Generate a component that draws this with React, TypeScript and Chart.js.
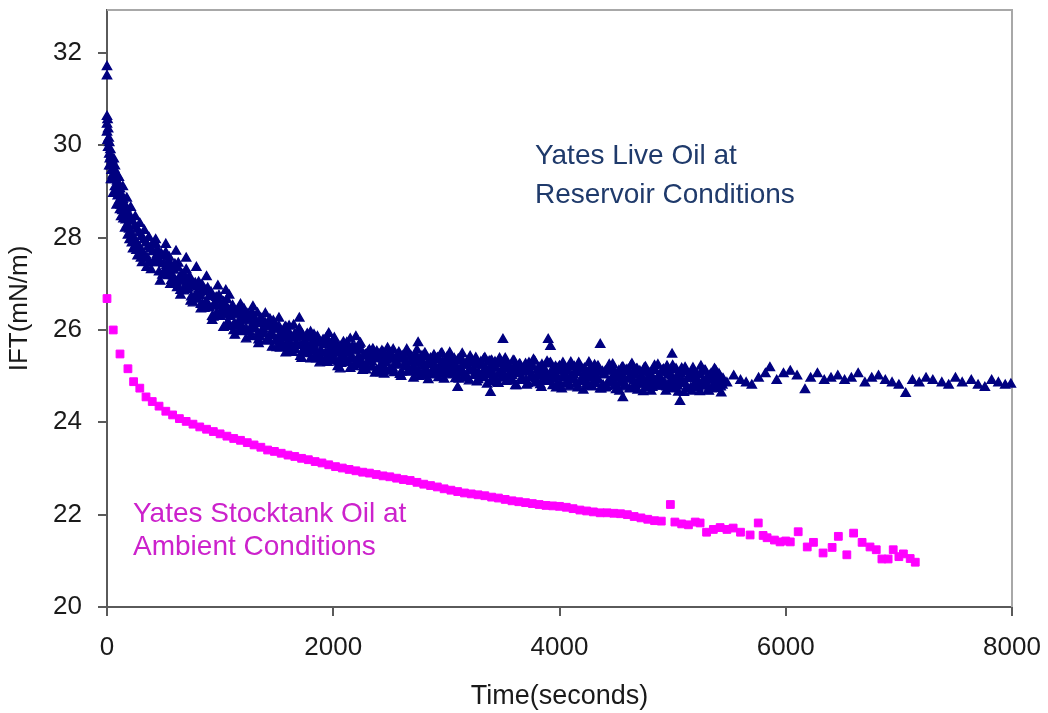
import React, { useEffect, useRef } from "react";
import { Chart, registerables } from "chart.js";

Chart.register(...registerables);

type Pt = [number, number];

// ---------- axes ----------
const X_TICKS = [0, 2000, 4000, 6000, 8000];
const Y_TICKS = [20, 22, 24, 26, 28, 30, 32];
const X_MIN = 0;
const X_MAX = 8000;
const Y_MIN = 20;
const Y_MAX = 32.93;
const X_TITLE = "Time(seconds)";
const Y_TITLE = "IFT(mN/m)";

// ---------- Yates live oil at reservoir conditions (triangles) ----------
const liveEarlyTime = [0, 0, 0, 0, 0, 5, 5, 10, 10, 15, 20, 20, 25, 30, 30, 35, 40, 45, 50, 55, 60, 65, 70, 75, 80, 90, 95, 100, 110, 115, 120, 130, 135, 140, 150, 155, 165, 170, 180, 190, 195, 205, 215, 225, 235, 245, 255, 265, 275, 285, 295, 305, 315, 325, 335, 345, 355, 365, 375, 385];
const liveEarlyIFT = [31.70, 31.50, 30.62, 30.45, 30.28, 30.55, 30.10, 30.35, 29.95, 30.15, 29.80, 30.05, 29.70, 29.90, 29.55, 29.75, 29.45, 29.68, 29.35, 29.58, 29.25, 29.48, 29.10, 29.35, 29.02, 29.22, 28.90, 29.12, 28.80, 29.05, 28.70, 28.92, 28.58, 28.82, 28.50, 28.72, 28.38, 28.62, 28.28, 28.52, 28.18, 28.42, 28.08, 28.35, 27.98, 28.25, 27.90, 28.18, 27.82, 28.10, 27.75, 28.02, 27.68, 27.95, 27.60, 27.88, 27.55, 27.80, 27.48, 27.75];
const liveEarlySpread: Pt[] = [
  [20, 29.55], [35, 29.25], [55, 28.95], [60, 29.70], [70, 29.55], [85, 28.70], [90, 29.35], [105, 29.30], [115, 28.60], [125, 28.45], [140, 29.10], [145, 28.40], [160, 28.20], [175, 28.85], [185, 28.05], [200, 27.95], [210, 28.65], [220, 27.88], [230, 27.75], [250, 28.45], [260, 27.72], [270, 27.60], [290, 28.30], [300, 27.55], [310, 27.45], [330, 28.15], [350, 27.35], [370, 28.00], [390, 27.30],
];

const live0400: Pt[] = [
  [400, 27.85], [420, 27.49], [440, 27.62], [460, 27.25], [480, 27.64], [500, 27.43], [520, 27.67], [540, 27.17], [560, 27.39], [580, 27.17], [600, 27.42], [620, 26.91], [640, 27.13], [660, 27.21], [680, 26.84], [700, 27.30], [720, 26.90], [740, 27.02], [760, 26.58], [780, 27.01], [800, 26.66], [820, 26.80], [840, 26.97], [860, 26.46], [880, 26.61],
  [410, 27.45], [430, 27.86], [450, 27.52], [470, 27.63], [490, 27.18], [510, 27.62], [530, 27.29], [550, 27.57], [570, 27.07], [590, 27.29], [610, 27.04], [630, 27.44], [650, 26.85], [670, 27.08], [690, 27.18], [710, 26.87], [730, 27.15], [750, 26.63], [770, 26.95], [790, 26.78], [810, 27.03], [830, 26.55], [850, 26.83], [870, 26.58], [890, 26.90],
];
const live0900: Pt[] = [
  [900, 26.50], [920, 26.81], [940, 26.27], [960, 26.59], [980, 26.66], [1000, 26.29], [1020, 26.44], [1040, 26.34], [1060, 26.65], [1080, 26.12], [1100, 26.42], [1120, 25.98], [1140, 26.32], [1160, 26.44], [1180, 26.11], [1200, 25.96], [1220, 26.33], [1240, 26.19], [1260, 25.96], [1280, 26.38], [1300, 26.03], [1320, 26.18], [1340, 25.78], [1360, 26.25], [1380, 26.01],
  [910, 26.75], [930, 26.29], [950, 26.57], [970, 26.36], [990, 26.74], [1010, 26.36], [1030, 26.60], [1050, 26.07], [1070, 26.44], [1090, 26.29], [1110, 26.52], [1130, 26.09], [1150, 26.39], [1170, 25.99], [1190, 26.22], [1210, 26.45], [1230, 26.02], [1250, 26.23], [1270, 25.85], [1290, 26.30], [1310, 26.03], [1330, 26.36], [1350, 25.85], [1370, 26.14], [1390, 25.91],
];
const live1400: Pt[] = [
  [1400, 26.14], [1420, 25.76], [1440, 26.23], [1460, 25.90], [1480, 26.01], [1500, 25.61], [1520, 26.07], [1540, 25.73], [1560, 25.85], [1580, 26.06], [1600, 25.63], [1620, 25.85], [1640, 25.51], [1660, 25.91], [1680, 25.66], [1700, 26.02], [1720, 25.50], [1740, 25.73], [1760, 25.55], [1780, 25.87], [1800, 25.37], [1820, 25.74], [1840, 25.59], [1860, 25.85], [1880, 25.43],
  [1410, 25.76], [1430, 26.06], [1450, 25.94], [1470, 26.19], [1490, 25.75], [1510, 26.02], [1530, 25.60], [1550, 25.88], [1570, 26.04], [1590, 25.69], [1610, 26.08], [1630, 25.58], [1650, 25.83], [1670, 25.70], [1690, 25.91], [1710, 25.42], [1730, 25.84], [1750, 25.59], [1770, 25.91], [1790, 25.48], [1810, 25.64], [1830, 25.89], [1850, 25.37], [1870, 25.71], [1890, 25.51],
];
const live1900: Pt[] = [
  [1900, 25.32], [1920, 25.68], [1940, 25.83], [1960, 25.45], [1980, 25.56], [2000, 25.33], [2020, 25.73], [2040, 25.20], [2060, 25.64], [2080, 25.42], [2100, 25.55], [2120, 25.72], [2140, 25.29], [2160, 25.44], [2180, 25.20], [2200, 25.60], [2220, 25.30], [2240, 25.71], [2260, 25.12], [2280, 25.43], [2300, 25.23], [2320, 25.56], [2340, 25.31], [2360, 25.47], [2380, 25.12],
  [1910, 25.78], [1930, 25.49], [1950, 25.29], [1970, 25.69], [1990, 25.41], [2010, 25.82], [2030, 25.49], [2050, 25.59], [2070, 25.27], [2090, 25.73], [2110, 25.32], [2130, 25.50], [2150, 25.16], [2170, 25.63], [2190, 25.54], [2210, 25.24], [2230, 25.68], [2250, 25.31], [2270, 25.45], [2290, 25.13], [2310, 25.53], [2330, 25.32], [2350, 25.58], [2370, 25.06], [2390, 25.46],
];
const live2400: Pt[] = [
  [2400, 25.40], [2420, 25.07], [2440, 25.51], [2460, 25.29], [2480, 25.60], [2500, 25.15], [2520, 25.40], [2540, 25.07], [2560, 25.30], [2580, 25.51], [2600, 24.99], [2620, 25.42], [2640, 25.20], [2660, 25.51], [2680, 25.08], [2700, 25.30], [2720, 25.15], [2740, 25.56], [2760, 24.99], [2780, 25.34], [2800, 25.22], [2820, 25.42], [2840, 24.92], [2860, 25.38], [2880, 25.10],
  [2410, 25.19], [2430, 25.54], [2450, 25.04], [2470, 25.34], [2490, 25.49], [2510, 25.10], [2530, 25.57], [2550, 25.23], [2570, 25.40], [2590, 25.03], [2610, 25.43], [2630, 25.26], [2650, 25.57], [2670, 25.09], [2690, 25.34], [2710, 24.95], [2730, 25.45], [2750, 25.14], [2770, 25.37], [2790, 25.00], [2810, 25.49], [2830, 25.09], [2850, 25.27], [2870, 25.02], [2890, 25.45],
];
const live2900: Pt[] = [
  [2900, 25.04], [2920, 25.39], [2940, 25.18], [2960, 25.49], [2980, 24.93], [3000, 25.30], [3020, 25.07], [3040, 25.41], [3060, 25.22], [3080, 24.94], [3100, 25.32], [3120, 25.10], [3140, 25.48], [3160, 25.00], [3180, 25.23], [3200, 24.89], [3220, 25.34], [3240, 25.14], [3260, 25.39], [3280, 24.92], [3300, 25.24], [3320, 25.01], [3340, 25.39], [3360, 24.82], [3380, 25.16],
  [2910, 25.35], [2930, 24.96], [2950, 25.47], [2970, 25.13], [2990, 25.24], [3010, 25.02], [3030, 25.50], [3050, 25.06], [3070, 25.37], [3090, 25.16], [3110, 24.93], [3130, 25.38], [3150, 25.07], [3170, 25.24], [3190, 24.95], [3210, 25.42], [3230, 25.11], [3250, 25.29], [3270, 24.87], [3290, 25.23], [3310, 24.98], [3330, 25.36], [3350, 25.05], [3370, 25.30], [3390, 24.88],
];
const live3400: Pt[] = [
  [3400, 25.33], [3420, 25.00], [3440, 25.15], [3460, 24.84], [3480, 25.27], [3500, 25.07], [3520, 25.38], [3540, 24.90], [3560, 25.16], [3580, 25.01], [3600, 25.32], [3620, 24.79], [3640, 25.19], [3660, 25.08], [3680, 24.91], [3700, 25.26], [3720, 24.83], [3740, 25.08], [3760, 24.96], [3780, 25.32], [3800, 24.87], [3820, 25.18], [3840, 24.75], [3860, 25.11], [3880, 25.00],
  [3410, 25.05], [3430, 25.30], [3450, 24.85], [3470, 25.38], [3490, 24.97], [3510, 25.17], [3530, 24.88], [3550, 25.23], [3570, 25.06], [3590, 25.33], [3610, 24.79], [3630, 25.11], [3650, 25.25], [3670, 24.90], [3690, 25.16], [3710, 24.80], [3730, 25.28], [3750, 24.97], [3770, 25.35], [3790, 24.93], [3810, 25.06], [3830, 24.81], [3850, 25.20], [3870, 24.99], [3890, 25.31],
];
const live3900: Pt[] = [
  [3900, 24.90], [3920, 25.28], [3940, 24.79], [3960, 25.13], [3980, 24.99], [4000, 25.21], [4020, 24.72], [4040, 25.16], [4060, 25.02], [4080, 24.84], [4100, 25.29], [4120, 24.92], [4140, 25.07], [4160, 24.74], [4180, 25.21], [4200, 24.88], [4220, 25.16], [4240, 24.98], [4260, 25.29], [4280, 24.78], [4300, 25.07], [4320, 24.84], [4340, 25.21], [4360, 24.72], [4380, 25.09],
  [3910, 25.26], [3930, 24.93], [3950, 25.08], [3970, 24.74], [3990, 25.18], [4010, 24.82], [4030, 25.28], [4050, 24.97], [4070, 25.12], [4090, 24.76], [4110, 25.01], [4130, 25.20], [4150, 24.84], [4170, 25.28], [4190, 24.92], [4210, 24.69], [4230, 25.08], [4250, 24.85], [4270, 25.16], [4290, 24.76], [4310, 25.23], [4330, 24.97], [4350, 25.12], [4370, 24.72], [4390, 25.03],
];
const live4400: Pt[] = [
  [4400, 25.02], [4420, 24.77], [4440, 25.24], [4460, 24.88], [4480, 25.13], [4500, 24.70], [4520, 25.07], [4540, 24.95], [4560, 25.19], [4580, 24.80], [4600, 25.09], [4620, 24.72], [4640, 25.26], [4660, 24.90], [4680, 25.14], [4700, 24.82], [4720, 24.98], [4740, 24.66], [4760, 25.19], [4780, 24.87], [4800, 25.06], [4820, 24.75], [4840, 25.22], [4860, 24.84], [4880, 25.01],
  [4410, 24.74], [4430, 25.11], [4450, 24.90], [4470, 25.25], [4490, 24.79], [4510, 24.99], [4530, 24.67], [4550, 25.17], [4570, 24.85], [4590, 25.13], [4610, 24.94], [4630, 25.21], [4650, 24.75], [4670, 25.03], [4690, 24.69], [4710, 25.10], [4730, 24.86], [4750, 25.17], [4770, 24.79], [4790, 24.98], [4810, 24.67], [4830, 25.13], [4850, 24.89], [4870, 25.24], [4890, 24.82],
];
const live4900: Pt[] = [
  [4900, 24.78], [4920, 25.14], [4940, 24.67], [4960, 25.07], [4980, 24.89], [5000, 25.22], [5020, 24.72], [5040, 25.00], [5060, 24.83], [5080, 25.16], [5100, 24.64], [5120, 25.09], [5140, 24.94], [5160, 24.74], [5180, 25.17], [5200, 24.84], [5220, 25.02], [5240, 24.66], [5260, 25.10], [5280, 24.78], [5300, 24.94], [5320, 24.67], [5340, 25.05], [5360, 24.89], [5380, 25.12], [5400, 24.73], [5420, 24.98], [5440, 24.80],
  [4910, 25.12], [4930, 24.85], [4950, 25.21], [4970, 24.73], [4990, 25.00], [5010, 24.80], [5030, 25.15], [5050, 24.65], [5070, 25.05], [5090, 24.90], [5110, 25.18], [5130, 24.75], [5150, 25.02], [5170, 24.67], [5190, 25.07], [5210, 24.94], [5230, 24.80], [5250, 25.21], [5270, 24.84], [5290, 25.11], [5310, 24.68], [5330, 25.01], [5350, 24.75], [5370, 25.15], [5390, 24.89], [5410, 25.04], [5430, 24.63],
];
const liveCoreA: Pt[] = [
  [405, 27.69], [425, 27.45], [445, 27.74], [465, 27.48], [485, 27.60], [505, 27.25], [525, 27.39], [545, 27.49], [565, 27.19], [585, 27.32], [605, 27.02], [625, 27.35], [645, 27.05], [665, 27.18], [685, 26.90], [705, 27.02], [725, 27.12], [745, 26.71], [765, 26.96], [785, 26.75], [805, 26.93], [825, 26.74], [845, 26.55], [865, 26.86], [885, 26.52],
  [905, 26.47], [925, 26.72], [945, 26.51], [965, 26.70], [985, 26.29], [1005, 26.51], [1025, 26.32], [1045, 26.51], [1065, 26.15], [1085, 26.34], [1105, 26.47], [1125, 26.13], [1145, 26.35], [1165, 26.18], [1185, 26.36], [1205, 26.02], [1225, 26.21], [1245, 26.34], [1265, 26.02], [1285, 26.08], [1305, 26.21], [1325, 25.88], [1345, 26.13], [1365, 25.96], [1385, 26.17],
  [1405, 26.08], [1425, 25.81], [1445, 26.09], [1465, 25.87], [1485, 26.10], [1505, 25.77], [1525, 25.89], [1545, 25.66], [1565, 25.94], [1585, 25.80], [1605, 25.96], [1625, 25.68], [1645, 25.82], [1665, 25.57], [1685, 25.86], [1705, 25.67], [1725, 25.90], [1745, 25.54], [1765, 25.68], [1785, 25.80], [1805, 25.55], [1825, 25.69], [1845, 25.44], [1865, 25.77], [1885, 25.53],
  [1905, 25.49], [1925, 25.73], [1945, 25.40], [1965, 25.58], [1985, 25.72], [2005, 25.41], [2025, 25.61], [2045, 25.30], [2065, 25.55], [2085, 25.45], [2105, 25.62], [2125, 25.29], [2145, 25.57], [2165, 25.37], [2185, 25.61], [2205, 25.29], [2225, 25.42], [2245, 25.56], [2265, 25.20], [2285, 25.46], [2305, 25.32], [2325, 25.49], [2345, 25.19], [2365, 25.37], [2385, 25.53],
  [2405, 25.47], [2425, 25.23], [2445, 25.35], [2465, 25.13], [2485, 25.42], [2505, 25.49], [2525, 25.17], [2545, 25.36], [2565, 25.25], [2585, 25.44], [2605, 25.08], [2625, 25.36], [2645, 25.26], [2665, 25.11], [2685, 25.44], [2705, 25.18], [2725, 25.37], [2745, 25.07], [2765, 25.29], [2785, 25.43], [2805, 25.12], [2825, 25.24], [2845, 25.03], [2865, 25.31], [2885, 25.15],
];
const liveCoreB: Pt[] = [
  [2905, 25.21], [2925, 25.38], [2945, 25.05], [2965, 25.30], [2985, 25.12], [3005, 25.40], [3025, 25.15], [3045, 25.32], [3065, 25.04], [3085, 25.21], [3105, 25.36], [3125, 25.06], [3145, 25.24], [3165, 24.97], [3185, 25.30], [3205, 25.14], [3225, 25.34], [3245, 25.01], [3265, 25.24], [3285, 25.07], [3305, 25.30], [3325, 24.96], [3345, 25.17], [3365, 25.03], [3385, 25.32],
  [3405, 25.21], [3425, 24.94], [3445, 25.26], [3465, 25.05], [3485, 25.11], [3505, 24.95], [3525, 25.28], [3545, 25.00], [3565, 25.15], [3585, 24.89], [3605, 25.21], [3625, 25.05], [3645, 25.25], [3665, 24.95], [3685, 25.10], [3705, 24.90], [3725, 25.17], [3745, 24.98], [3765, 25.20], [3785, 24.85], [3805, 25.13], [3825, 25.00], [3845, 25.24], [3865, 24.91], [3885, 25.06],
  [3905, 24.88], [3925, 25.09], [3945, 24.94], [3965, 25.20], [3985, 24.83], [4005, 25.12], [4025, 24.98], [4045, 25.16], [4065, 24.88], [4085, 25.20], [4105, 24.94], [4125, 25.02], [4145, 24.82], [4165, 25.08], [4185, 25.15], [4205, 24.89], [4225, 25.03], [4245, 24.78], [4265, 25.11], [4285, 24.97], [4305, 24.84], [4325, 25.17], [4345, 24.91], [4365, 25.08], [4385, 24.80],
  [4405, 25.10], [4425, 24.85], [4445, 25.16], [4465, 24.93], [4485, 25.04], [4505, 24.79], [4525, 25.11], [4545, 24.87], [4565, 24.99], [4585, 24.76], [4605, 25.13], [4625, 24.93], [4645, 25.05], [4665, 24.80], [4685, 25.15], [4705, 24.88], [4725, 25.00], [4745, 24.82], [4765, 25.08], [4785, 24.75], [4805, 25.03], [4825, 24.89], [4845, 25.12], [4865, 24.78], [4885, 24.95],
  [4905, 24.88], [4925, 25.08], [4945, 24.76], [4965, 25.03], [4985, 24.83], [5005, 25.13], [5025, 24.92], [5045, 24.78], [5065, 25.06], [5085, 24.86], [5105, 25.10], [5125, 24.73], [5145, 24.97], [5165, 25.07], [5185, 24.79], [5205, 24.94], [5225, 24.75], [5245, 25.03], [5265, 24.88], [5285, 25.11], [5305, 24.81], [5325, 24.98], [5345, 24.72], [5365, 25.07], [5385, 24.84], [5405, 25.00], [5425, 24.76], [5445, 24.94],
];
const liveEdges: Pt[] = [
  [430, 27.95], [470, 27.05], [520, 27.85], [560, 26.98], [610, 27.70], [650, 26.75], [700, 27.55], [740, 26.62], [790, 27.35], [830, 26.45], [880, 27.15], [930, 26.20], [980, 26.95], [1030, 26.05], [1080, 26.75], [1130, 25.88], [1180, 26.55], [1230, 25.80], [1290, 26.50], [1340, 25.70], [1400, 26.35], [1460, 25.62], [1520, 26.25], [1580, 25.50], [1650, 26.10], [1720, 25.38], [1800, 25.95], [1880, 25.28], [1960, 25.92], [2060, 25.15], [2150, 25.80],
];
const liveOutliers: Pt[] = [
  [1050, 26.85], [1700, 26.25], [2200, 25.85], [2750, 25.72], [3100, 24.75], [3390, 24.64], [3500, 25.79], [3900, 25.79], [3920, 25.64], [4360, 25.68], [4560, 24.53], [4995, 25.47], [5065, 24.45],
];
const liveTail: Pt[] = [
  [5480, 24.85], [5540, 25.00], [5600, 24.90], [5650, 24.85], [5700, 24.80], [5760, 24.95], [5820, 25.05], [5860, 25.18], [5920, 24.90], [5980, 25.05], [6040, 25.10], [6100, 25.00], [6170, 24.70], [6220, 24.95], [6280, 25.05], [6340, 24.90], [6400, 24.95], [6460, 25.00], [6520, 24.90], [6580, 24.95], [6640, 25.05], [6700, 24.85], [6760, 24.95], [6820, 25.00], [6880, 24.90], [6940, 24.85], [7000, 24.80], [7060, 24.62], [7120, 24.90], [7180, 24.85], [7240, 24.95], [7300, 24.90], [7380, 24.85], [7440, 24.80], [7500, 24.95], [7560, 24.85], [7640, 24.90], [7700, 24.80], [7760, 24.75], [7820, 24.90], [7880, 24.85], [7940, 24.80], [7990, 24.82],
];

// ---------- Yates stocktank oil at ambient conditions (squares) ----------
const stockEarly: Pt[] = [
  [0, 26.68], [55, 26.00], [115, 25.48], [185, 25.16], [235, 24.88], [290, 24.74], [345, 24.55], [400, 24.45], [460, 24.35], [520, 24.24], [580, 24.16], [640, 24.08], [700, 24.02], [760, 23.96], [820, 23.90], [880, 23.85], [940, 23.80], [1000, 23.75],
];
const stockMid: Pt[] = [
  [1060, 23.70], [1120, 23.65], [1180, 23.61], [1240, 23.56], [1300, 23.51], [1360, 23.46], [1420, 23.40], [1480, 23.37], [1540, 23.33], [1600, 23.29], [1660, 23.26], [1720, 23.22], [1780, 23.19], [1840, 23.15], [1900, 23.12], [1960, 23.08], [2020, 23.04], [2080, 23.01], [2140, 22.98], [2200, 22.95], [2260, 22.92], [2320, 22.90], [2380, 22.87], [2440, 22.84], [2500, 22.82], [2560, 22.79], [2620, 22.76], [2680, 22.74], [2740, 22.70], [2800, 22.66], [2860, 22.63], [2920, 22.60], [2980, 22.56], [3040, 22.53], [3100, 22.50], [3160, 22.47], [3220, 22.45], [3280, 22.43], [3340, 22.41], [3400, 22.38], [3460, 22.36], [3520, 22.33], [3580, 22.30], [3640, 22.28], [3700, 22.26], [3760, 22.24], [3820, 22.22], [3880, 22.20], [3940, 22.19], [4000, 22.18], [4060, 22.16], [4120, 22.13], [4180, 22.10], [4240, 22.08], [4300, 22.06], [4360, 22.04], [4420, 22.04], [4480, 22.03], [4540, 22.02], [4600, 22.00], [4660, 21.96], [4720, 21.93], [4780, 21.90], [4840, 21.87], [4900, 21.86], [4980, 22.22],
];
const stockLate: Pt[] = [
  [5020, 21.84], [5080, 21.80], [5140, 21.78], [5200, 21.84], [5243, 21.82], [5300, 21.62], [5360, 21.68], [5420, 21.72], [5480, 21.68], [5535, 21.71], [5600, 21.62], [5685, 21.56], [5757, 21.82], [5800, 21.55], [5835, 21.50], [5900, 21.45], [5950, 21.41], [6000, 21.43], [6040, 21.41], [6110, 21.63], [6190, 21.30], [6245, 21.40], [6330, 21.17], [6410, 21.29], [6465, 21.53], [6540, 21.13], [6600, 21.60], [6675, 21.40], [6745, 21.30], [6800, 21.24], [6850, 21.04], [6905, 21.04], [6950, 21.24], [7000, 21.09], [7040, 21.15], [7100, 21.05], [7145, 20.97],
];

// ---------- annotation text ----------
const liveNote = ["Yates Live Oil at", "Reservoir Conditions"];
const stockNote = ["Yates Stocktank Oil at", "Ambient Conditions"];

// ---------- styling (kept separate from data) ----------
const FONT = '"Liberation Sans", Arial, Helvetica, sans-serif';
const LIVE_COLOR = "#000080";
const STOCK_COLOR = "#FF00FF";
const notes = [
  { lines: liveNote, color: "#1f3a6b", x: 3783, y: [29.77, 28.92] },
  { lines: stockNote, color: "#cc22cc", x: 230, y: [22.01, 21.30] },
];

const toPts = (arr: Pt[]) => arr.map(([x, y]) => ({ x, y }));

const notesPlugin = {
  id: "notes",
  afterDatasetsDraw(chart: any) {
    const { ctx, scales } = chart;
    const xs = scales.x;
    const ys = scales.y;
    ctx.save();
    ctx.font = `28px ${FONT}`;
    ctx.textAlign = "left";
    ctx.textBaseline = "middle";
    notes.forEach((n) => {
      ctx.fillStyle = n.color;
      n.lines.forEach((line, i) => {
        ctx.fillText(line, xs.getPixelForValue(n.x), ys.getPixelForValue(n.y[i]));
      });
    });
    ctx.restore();
  },
};

const framePlugin = {
  id: "frame",
  beforeDatasetsDraw(chart: any) {
    const { ctx, chartArea } = chart;
    ctx.save();
    ctx.strokeStyle = "#a8a8a8";
    ctx.lineWidth = 2;
    ctx.beginPath();
    ctx.moveTo(chartArea.left, chartArea.top);
    ctx.lineTo(chartArea.right, chartArea.top);
    ctx.lineTo(chartArea.right, chartArea.bottom);
    ctx.stroke();
    ctx.restore();
  },
};

export default function App() {
  const canvasRef = useRef<HTMLCanvasElement | null>(null);

  useEffect(() => {
    if (!canvasRef.current) return;
    const livePts = [
      ...liveEarlyTime.map((t, i) => ({ x: t, y: liveEarlyIFT[i] })),
      ...toPts(liveEarlySpread),
      ...toPts(live0400), ...toPts(live0900), ...toPts(live1400), ...toPts(live1900),
      ...toPts(live2400), ...toPts(live2900), ...toPts(live3400), ...toPts(live3900),
      ...toPts(live4400), ...toPts(live4900), ...toPts(liveCoreA), ...toPts(liveCoreB),
      ...toPts(liveEdges), ...toPts(liveOutliers), ...toPts(liveTail),
    ];
    const stockPts = [...toPts(stockEarly), ...toPts(stockMid), ...toPts(stockLate)];

    const axisColor = "#5a5a5a";
    const chart = new Chart(canvasRef.current, {
      type: "scatter",
      data: {
        datasets: [
          {
            label: "Yates Live Oil at Reservoir Conditions",
            data: livePts,
            pointStyle: "triangle",
            pointRadius: 5.3,
            backgroundColor: LIVE_COLOR,
            borderColor: LIVE_COLOR,
            borderWidth: 1.4,
            showLine: false,
            clip: false,
          } as any,
          {
            label: "Yates Stocktank Oil at Ambient Conditions",
            data: stockPts,
            pointStyle: "rect",
            pointRadius: 5.5,
            backgroundColor: STOCK_COLOR,
            borderColor: STOCK_COLOR,
            borderWidth: 1,
            showLine: false,
            clip: false,
          } as any,
        ],
      },
      options: {
        animation: false,
        responsive: false,
        events: [],
        layout: { padding: { left: 0, right: 36, top: 10, bottom: 0 } },
        plugins: { legend: { display: false }, tooltip: { enabled: false } },
        scales: {
          x: {
            type: "linear",
            min: X_MIN,
            max: X_MAX,
            afterBuildTicks: (s: any) => {
              s.ticks = X_TICKS.map((v) => ({ value: v }));
            },
            afterFit: (s: any) => {
              s.height = 106;
              s.paddingLeft = 0;
              s.paddingRight = 0;
            },
            ticks: {
              font: { size: 26, family: FONT },
              color: "#1a1a1a",
              padding: 16,
              maxRotation: 0,
              autoSkip: false,
              callback: (v: any) => String(v),
            },
            grid: { drawOnChartArea: false, drawTicks: true, tickLength: 9, color: axisColor, lineWidth: 2 },
            border: { display: true, color: axisColor, width: 2 },
            title: {
              display: true,
              text: X_TITLE,
              font: { size: 27, family: FONT },
              color: "#1a1a1a",
              padding: { top: 0, bottom: 0 },
            },
          } as any,
          y: {
            type: "linear",
            min: Y_MIN,
            max: Y_MAX,
            afterBuildTicks: (s: any) => {
              s.ticks = Y_TICKS.map((v) => ({ value: v }));
            },
            afterFit: (s: any) => {
              s.width = 107;
              s.paddingTop = 0;
              s.paddingBottom = 0;
            },
            ticks: {
              font: { size: 26, family: FONT },
              color: "#1a1a1a",
              padding: 16,
              autoSkip: false,
              callback: (v: any) => String(v),
            },
            grid: { drawOnChartArea: false, drawTicks: true, tickLength: 9, color: axisColor, lineWidth: 2 },
            border: { display: true, color: axisColor, width: 2 },
            title: {
              display: true,
              text: Y_TITLE,
              font: { size: 26, family: FONT },
              color: "#1a1a1a",
              padding: { top: 4, bottom: 0 },
            },
          } as any,
        },
      },
      plugins: [framePlugin, notesPlugin],
    });
    return () => chart.destroy();
  }, []);

  return (
    <div style={{ position: "fixed", left: 0, top: 0, width: 1048, height: 713, background: "#fff" }}>
      <canvas ref={canvasRef} width={1048} height={713} style={{ display: "block" }} />
    </div>
  );
}
